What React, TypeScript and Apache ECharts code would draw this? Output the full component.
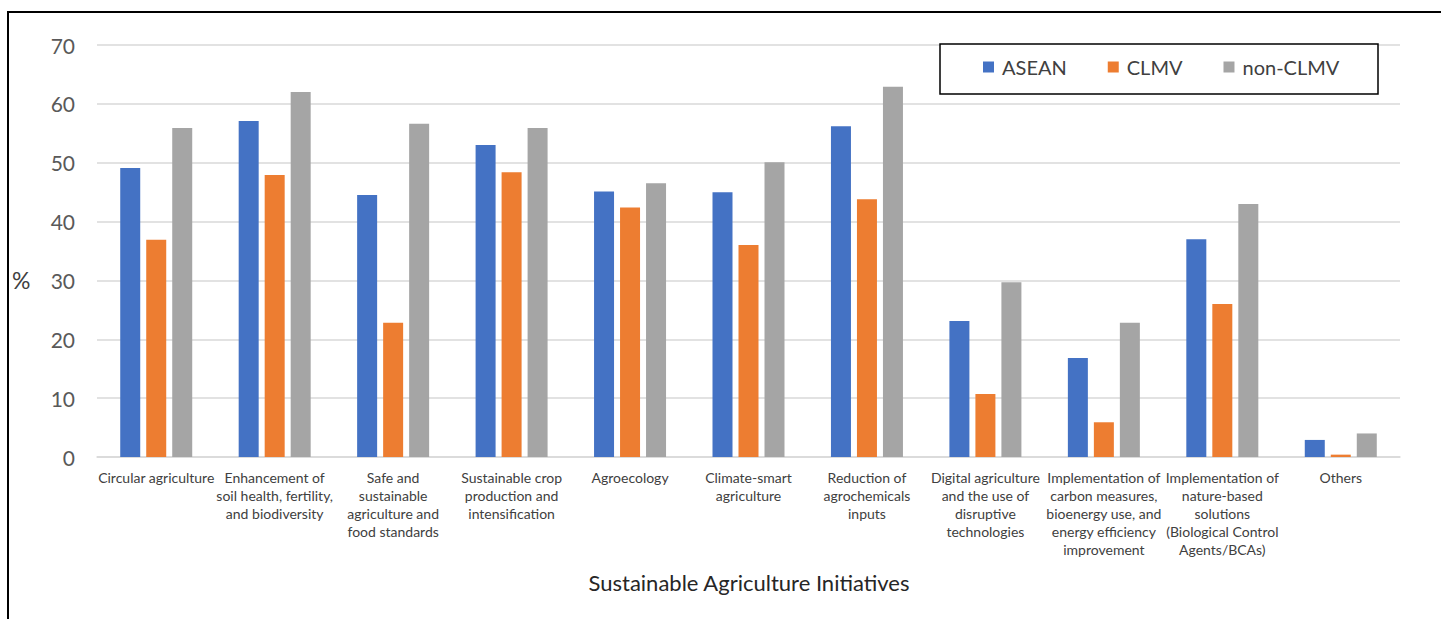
import React, { useEffect, useRef } from "react";
import * as echarts from "echarts";

const categories = [
  "Circular agriculture",
  "Enhancement of\nsoil health, fertility,\nand biodiversity",
  "Safe and\nsustainable\nagriculture and\nfood standards",
  "Sustainable crop\nproduction and\nintensification",
  "Agroecology",
  "Climate-smart\nagriculture",
  "Reduction of\nagrochemicals\ninputs",
  "Digital agriculture\nand the use of\ndisruptive\ntechnologies",
  "Implementation of\ncarbon measures,\nbioenergy use, and\nenergy efficiency\nimprovement",
  "Implementation of\nnature-based\nsolutions\n(Biological Control\nAgents/BCAs)",
  "Others",
];

const asean = [49.1, 57.1, 44.5, 53.0, 45.1, 45.0, 56.2, 23.1, 16.8, 37.0, 2.9];
const clmv = [36.9, 47.9, 22.8, 48.4, 42.4, 36.0, 43.8, 10.7, 5.9, 26.0, 0.4];
const nonClmv = [55.9, 62.0, 56.6, 55.9, 46.5, 50.1, 62.9, 29.7, 22.8, 43.0, 4.0];

const seriesNames = ["ASEAN", "CLMV", "non-CLMV"];
const colors = ["#4472C4", "#ED7D31", "#A5A5A5"];

const yTicks = { min: 0, max: 70, interval: 10 };
const yAxisTitle = "%";
const xAxisTitle = "Sustainable Agriculture Initiatives";

const FONT = "Lato, 'Open Sans', sans-serif";

export default function App() {
  const ref = useRef<HTMLDivElement>(null);
  useEffect(() => {
    if (!ref.current) return;
    const chart = echarts.init(ref.current, null, { renderer: "svg" });
    const data = [asean, clmv, nonClmv];
    chart.setOption({
      animation: false,
      backgroundColor: "#ffffff",
      textStyle: { fontFamily: FONT },
      grid: { left: 97, right: 41, top: 45, bottom: 162, containLabel: false },
      legend: {
        left: 983,
        top: 57,
        data: seriesNames,
        icon: "rect",
        itemWidth: 11,
        itemHeight: 11,
        itemGap: 41,
        padding: 0,
        textStyle: { fontSize: 20, color: "#404040", fontFamily: FONT, padding: [0, 0, 0, 3] },
        z: 10,
      },
      xAxis: {
        type: "category",
        data: categories,
        axisLine: { show: true, lineStyle: { color: "#d9d9d9", width: 1.5 } },
        axisTick: { show: false },
        axisLabel: {
          interval: 0,
          margin: 11,
          fontSize: 14,
          lineHeight: 18,
          color: "#404040",
          fontFamily: FONT,
          align: "center",
          verticalAlign: "top",
        },
      },
      yAxis: {
        type: "value",
        min: yTicks.min,
        max: yTicks.max,
        interval: yTicks.interval,
        axisLine: { show: false },
        axisTick: { show: false },
        splitLine: { lineStyle: { color: "#d9d9d9", width: 1.5 } },
        axisLabel: { fontSize: 21, color: "#595959", margin: 22, fontFamily: FONT },
      },
      series: seriesNames.map((name, i) => ({
        name,
        type: "bar",
        data: data[i],
        barWidth: 20,
        barGap: "30%",
        itemStyle: { color: colors[i] },
      })),
      graphic: [
        {
          type: "rect",
          shape: { x: 940, y: 44, width: 438, height: 50 },
          style: { fill: "#ffffff", stroke: "#000000", lineWidth: 1.5 },
          z: 5,
        },
        {
          type: "text",
          x: 12,
          y: 280,
          style: {
            text: yAxisTitle,
            fontSize: 23,
            fill: "#404040",
            fontFamily: FONT,
            verticalAlign: "middle",
          },
        },
        {
          type: "text",
          x: 749,
          y: 582,
          style: {
            text: xAxisTitle,
            fontSize: 22,
            fill: "#262626",
            fontFamily: FONT,
            align: "center",
            verticalAlign: "middle",
          },
        },
        {
          type: "line",
          shape: { x1: 7, y1: 12, x2: 1441, y2: 12 },
          style: { stroke: "#000000", lineWidth: 2 },
        },
        {
          type: "line",
          shape: { x1: 8, y1: 11, x2: 8, y2: 619 },
          style: { stroke: "#000000", lineWidth: 2 },
        },
      ],
    });
    return () => chart.dispose();
  }, []);
  return (
    <div
      ref={ref}
      style={{ position: "fixed", left: 0, top: 0, width: 1441, height: 619, background: "#fff" }}
    />
  );
}
